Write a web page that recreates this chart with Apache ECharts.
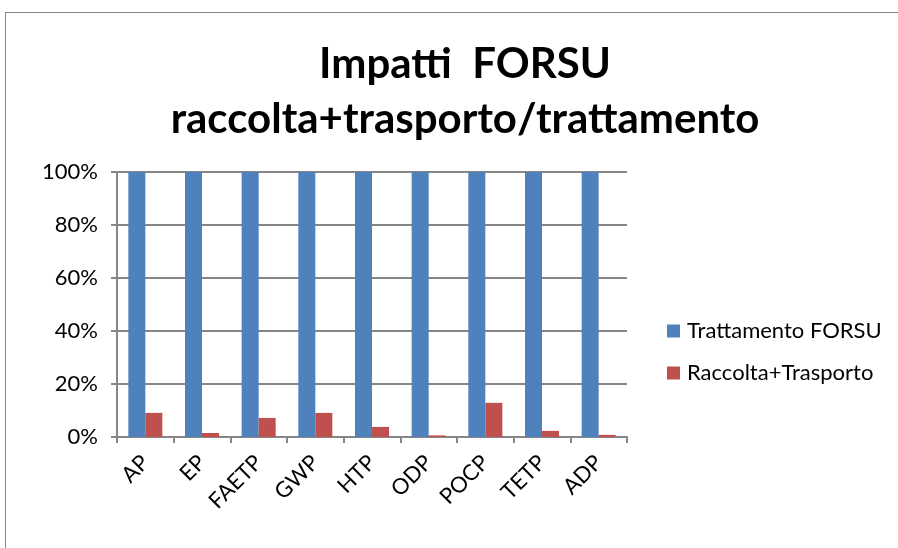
<!DOCTYPE html>
<html>
<head>
<meta charset="utf-8">
<script src="https://cdn.jsdelivr.net/npm/echarts@6/dist/echarts.min.js"></script>
<style>
  html, body { margin: 0; padding: 0; background: #fff; }
  #frame { position: absolute; left: 5px; top: 12px; width: 900px; height: 540px; border: 1px solid #868686; box-sizing: border-box; }
  #chart { width: 898px; height: 548px; }
</style>
</head>
<body>
<div id="frame"></div>
<div id="chart"></div>
<script>
// categorie degli impatti
const categories = ['AP', 'EP', 'FAETP', 'GWP', 'HTP', 'ODP', 'POCP', 'TETP', 'ADP']
// quota percentuale per serie
const trattamento = [100, 100, 100, 100, 100, 100, 100, 100, 100]
const raccoltaTrasporto = [9.1, 1.5, 7.2, 9.1, 3.8, 0.6, 12.9, 2.3, 0.8]
const seriesNames = ['Trattamento FORSU', 'Raccolta+Trasporto']
const yTicks = [0, 20, 40, 60, 80, 100]

const font = 'Lato, "Open Sans", sans-serif'
const myChart = echarts.init(document.getElementById('chart'))
var option = {
  animation: false,
  title: {
    text: 'Impatti  FORSU\nraccolta+trasporto/trattamento',
    left: 460,
    top: 32,
    textAlign: 'center',
    textStyle: {
      fontFamily: font,
      fontSize: 42,
      fontWeight: 'bold',
      color: '#000',
      lineHeight: 55,
    },
  },
  legend: {
    orient: 'vertical',
    left: 662,
    top: 315,
    itemWidth: 13,
    itemHeight: 13,
    itemGap: 20,
    icon: 'rect',
    data: seriesNames,
    textStyle: { fontFamily: font, fontSize: 22, color: '#000', padding: [0, 0, 0, 2] },
  },
  grid: {
    left: 117,
    top: 172,
    width: 510,
    height: 265,
  },
  xAxis: {
    type: 'category',
    data: categories,
    axisLine: { lineStyle: { color: '#868686', width: 2 } },
    axisTick: { show: true, length: 6, lineStyle: { color: '#868686', width: 2 } },
    axisLabel: {
      rotate: 45,
      interval: 0,
      margin: 22,
      fontFamily: font,
      fontSize: 22,
      color: '#000',
    },
  },
  yAxis: {
    type: 'value',
    min: 0,
    max: 100,
    interval: 20,
    axisLine: { show: true, lineStyle: { color: '#868686', width: 2 } },
    axisTick: { show: true, length: 6, lineStyle: { color: '#868686', width: 2 } },
    splitLine: { lineStyle: { color: '#868686', width: 2 } },
    axisLabel: {
      margin: 19,
      fontFamily: font,
      fontSize: 22,
      color: '#000',
      formatter: (v) => (yTicks.includes(v) ? v + '%' : ''),
    },
  },
  series: [
    {
      name: seriesNames[0],
      type: 'bar',
      data: trattamento,
      barGap: '0%',
      barCategoryGap: '40%',
      itemStyle: { color: '#4F81BD' },
    },
    {
      name: seriesNames[1],
      type: 'bar',
      data: raccoltaTrasporto,
      itemStyle: { color: '#C0504D' },
    },
  ],
}
option && myChart.setOption(option)
</script>
</body>
</html>
